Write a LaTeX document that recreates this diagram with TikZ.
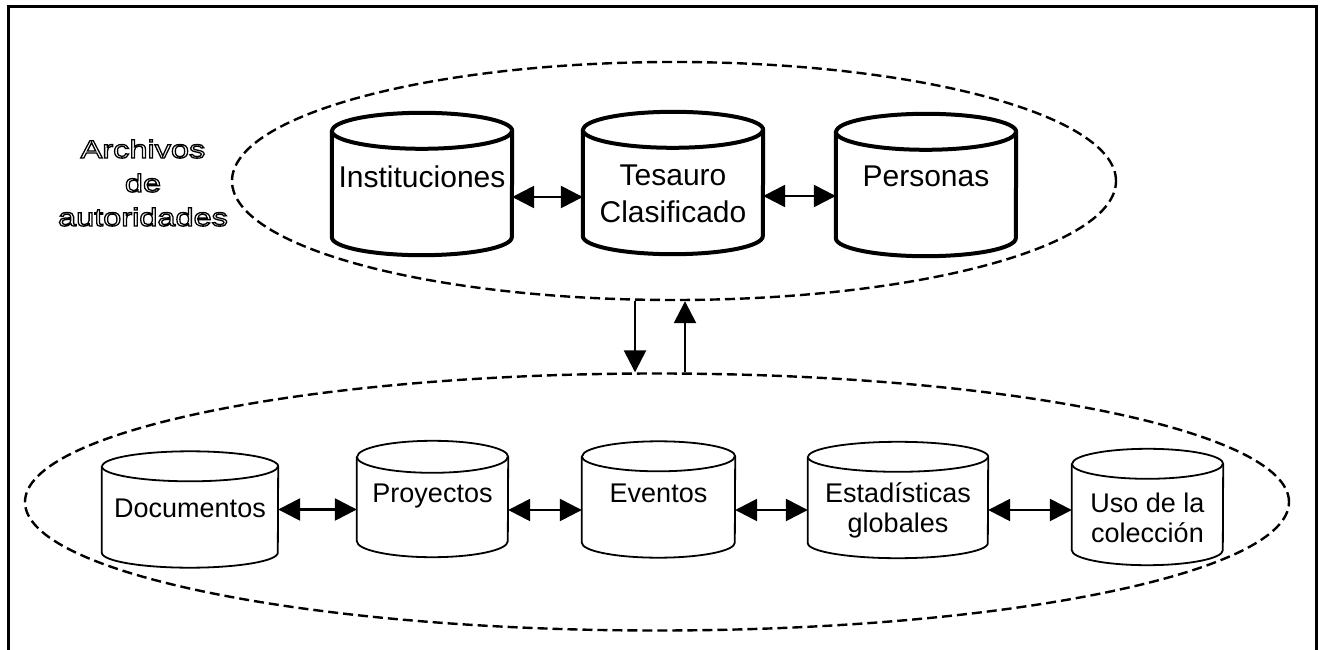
\documentclass[tikz,border=0pt]{standalone}
\usepackage{fontspec}
\setmainfont{Liberation Sans}
\newfontfamily\hollowfont[FakeStretch=1.3]{Liberation Sans}
\usetikzlibrary{shapes.geometric,arrows.meta}
% cylinder outline round a named node: style, node, x radius, y radius of the caps
\newcommand\dbcyl[4]{%
  \draw[#1] ([yshift=-#4]#2.north west) -- ([yshift=#4]#2.south west)
    arc[start angle=180, end angle=360, x radius=#3, y radius=#4] -- ([yshift=-#4]#2.north east)
    arc[start angle=0, end angle=180, x radius=#3, y radius=#4] -- cycle;
  \draw[#1] ([yshift=-#4]#2.north west) arc[start angle=180, end angle=360, x radius=#3, y radius=#4];
}
\tikzset{
  db node/.style={rectangle, inner sep=0pt},
  aut node/.style={db node, minimum width=180pt, minimum height=142pt},
  col node/.style={db node, minimum height=116pt},
  aut line/.style={line width=4pt, fill=white, line join=round},
  col line/.style={line width=1.8pt, fill=white, line join=round},
  aut text/.style={align=center, inner sep=0pt, font=\fontsize{30}{37}\selectfont},
  col text/.style={align=center, inner sep=0pt, font=\fontsize{27}{30}\selectfont},
  zone/.style={ellipse, draw, dash pattern=on 10pt off 5pt, line width=2.4pt, inner sep=0pt},
  link/.style={{Triangle[length=22pt,width=22pt]}-{Triangle[length=22pt,width=22pt]}, line width=2.6pt},
  flow/.style={-{Triangle[length=22pt,width=22pt]}, line width=2.6pt},
}
\begin{document}
\begin{tikzpicture}[x=1pt,y=-1pt]
\useasboundingbox (0,0) rectangle (1323,650);
\draw[line width=3pt] (8,650) -- (8,7) -- (1316,7) -- (1316,650);
% the two groups
\node[zone, minimum width=884pt, minimum height=238pt] (aut) at (674,181) {};
\node[zone, minimum width=1264pt, minimum height=257pt] (col) at (657,502) {};
\node[align=center, font=\hollowfont\fontsize{25}{34}\selectfont] (lbl) at (143,183)
  {\special{pdf:literal direct 1 Tr 1.3 w}Archivos\\de\\autoridades\special{pdf:literal direct 0 Tr}};
% authority files
\node[aut node] (inst) at (422,184) {};
\node[aut node] (tes) at (673,183) {};
\node[aut node] (pers) at (926,185) {};
\dbcyl{aut line}{inst}{90pt}{18pt}
\dbcyl{aut line}{tes}{90pt}{18pt}
\dbcyl{aut line}{pers}{90pt}{18pt}
\node[aut text, anchor=base] (inst-t) at (422,187) {Instituciones};
\node[aut text] (tes-t) at (673,194) {Tesauro\\Clasificado};
\node[aut text, anchor=base] (pers-t) at (926,186) {Personas};
% collection files
\node[col node, minimum width=176pt] (doc) at (190,509.5) {};
\node[col node, minimum width=151pt] (proy) at (432.5,499) {};
\node[col node, minimum width=153pt] (even) at (658.5,499.5) {};
\node[col node, minimum width=180pt] (estad) at (898,500) {};
\node[col node, minimum width=151pt] (uso) at (1147.5,507) {};
\dbcyl{col line}{doc}{88pt}{15pt}
\dbcyl{col line}{proy}{75.5pt}{16pt}
\dbcyl{col line}{even}{76.5pt}{15pt}
\dbcyl{col line}{estad}{90pt}{15pt}
\dbcyl{col line}{uso}{75.5pt}{15pt}
\node[col text, anchor=base] (doc-t) at (190,517) {Documentos};
\node[col text, anchor=base] (proy-t) at (432.5,502) {Proyectos};
\node[col text, anchor=base] (even-t) at (658.5,502) {Eventos};
\node[col text] (estad-t) at (898,510.5) {Estadísticas\\globales};
\node[col text] (uso-t) at (1147.5,518) {Uso de la\\colección};
% links
\draw[link] ([yshift=-13pt]inst.east) -- ([yshift=-13pt]inst.east -| tes.west);
\draw[link] ([yshift=-13pt]tes.east) -- ([yshift=-13pt]tes.east -| pers.west);
\draw[link] (doc.east) -- (doc.east -| proy.west);
\draw[link] ([yshift=-11pt]proy.east) -- ([yshift=-11pt]proy.east -| even.west);
\draw[link] ([yshift=-10.5pt]even.east) -- ([yshift=-10.5pt]even.east -| estad.west);
\draw[link] ([yshift=-10pt]estad.east) -- ([yshift=-10pt]estad.east -| uso.west);
\draw[flow] ([xshift=-39pt]aut.south) -- ([xshift=-39pt]aut.south |- col.north);
\draw[flow] ([xshift=11pt]aut.south |- col.north) -- ([xshift=11pt]aut.south);
\end{tikzpicture}
\end{document}
